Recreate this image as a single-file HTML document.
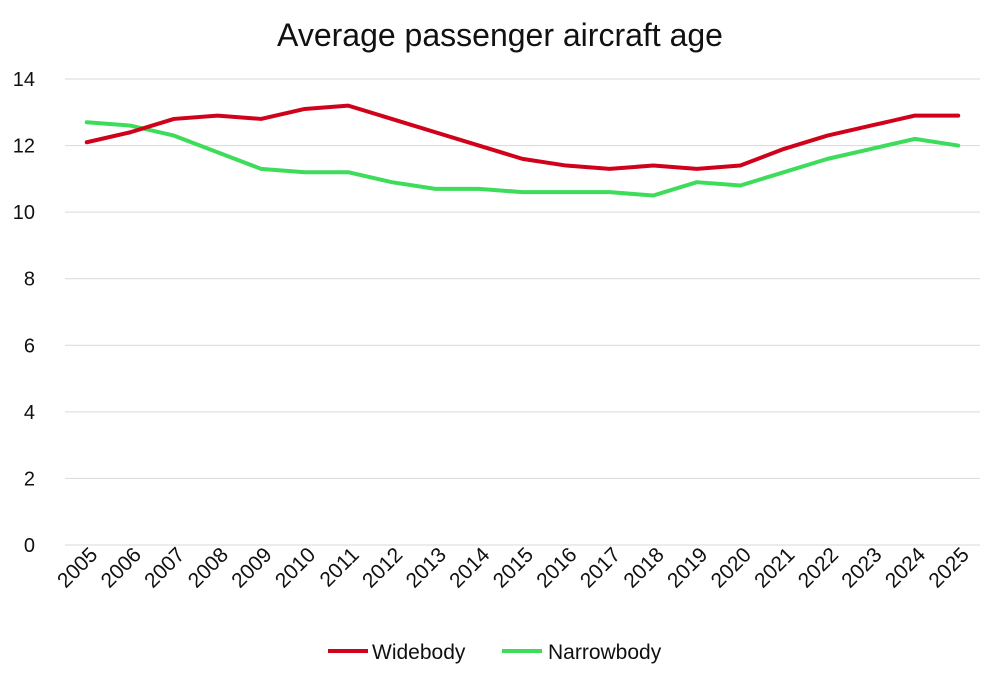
<!DOCTYPE html>
<html><head><meta charset="utf-8"><style>
body{margin:0;background:#fff;font-family:"Liberation Sans",sans-serif}
svg text{font-family:"Liberation Sans",sans-serif;fill:#111}
</style></head><body>
<svg id="chart" width="1000" height="680">
<text x="500" y="46" text-anchor="middle" font-size="32">Average passenger aircraft age</text>
<g id="grid"></g><g id="xlab"></g><g id="lines"></g>
<g>
<line x1="328" y1="651" x2="368" y2="651" stroke="#d0021b" stroke-width="4"/>
<text x="372" y="659" font-size="21">Widebody</text>
<line x1="502" y1="651" x2="542" y2="651" stroke="#3ddc5a" stroke-width="4"/>
<text x="548" y="659" font-size="21">Narrowbody</text>
</g>
</svg>
<script>
const categories=["2005","2006","2007","2008","2009","2010","2011","2012","2013","2014","2015","2016","2017","2018","2019","2020","2021","2022","2023","2024","2025"];
const widebody=[12.1,12.4,12.8,12.9,12.8,13.1,13.2,12.8,12.4,12.0,11.6,11.4,11.3,11.4,11.3,11.4,11.9,12.3,12.6,12.9,12.9];
const narrowbody=[12.7,12.6,12.3,11.8,11.3,11.2,11.2,10.9,10.7,10.7,10.6,10.6,10.6,10.5,10.9,10.8,11.2,11.6,11.9,12.2,12.0];
const yTicks=[0,2,4,6,8,10,12,14];
const NS="http://www.w3.org/2000/svg";
const L=65,R=980,T=79,B=545,yMax=14;
const bw=(R-L)/categories.length;
const x=i=>L+bw*(i+0.5);
const y=v=>B-(v/yMax)*(B-T);
function mk(tag,attrs,parent){const e=document.createElementNS(NS,tag);for(const k in attrs)e.setAttribute(k,attrs[k]);parent.appendChild(e);return e;}
const grid=document.getElementById('grid');
yTicks.forEach(t=>{
 const l=mk('line',{x1:L,x2:R,y1:y(t),y2:y(t),stroke:'#d9d9d9','stroke-width':1},grid);
 
 
 const tx=mk('text',{x:35,y:y(t)+7,'text-anchor':'end','font-size':20},grid);
 tx.textContent=t;
 
 
});
const xl=document.getElementById('xlab');
categories.forEach((c,i)=>{
 const ax=x(i)+12, ay=556;
 const tx=mk('text',{x:ax,y:ay,'text-anchor':'end','font-size':21,transform:`rotate(-45 ${ax} ${ay})`},xl);
 tx.textContent=c;
 
 
});
const lines=document.getElementById('lines');
[[narrowbody,'#3ddc5a','narrowbody-line'],[widebody,'#d0021b','widebody-line']].forEach(([d,col,n])=>{
 const p=mk('polyline',{points:d.map((v,i)=>x(i)+','+y(v)).join(' '),fill:'none',stroke:col,'stroke-width':4,'stroke-linejoin':'round','stroke-linecap':'round'},lines);
 
 
});
</script>
</body></html>
